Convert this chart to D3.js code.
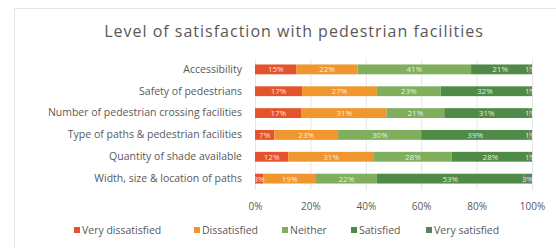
<!DOCTYPE html>
<html>
<head>
<meta charset="utf-8">
<script src="https://cdn.jsdelivr.net/npm/d3@7"></script>
<style>
  body { margin: 0; background: #fff; }
  svg { display: block; font-family: 'Open Sans', sans-serif; }
</style>
</head>
<body>
<svg id="chart" width="556" height="248"></svg>
<script>
const categories = [
  'Accessibility',
  'Safety of pedestrians',
  'Number of pedestrian crossing facilities',
  'Type of paths & pedestrian facilities',
  'Quantity of shade available',
  'Width, size & location of paths',
];
const levels = ['Very dissatisfied', 'Dissatisfied', 'Neither', 'Satisfied', 'Very satisfied'];
const veryDissatisfied = [15, 17, 17, 7, 12, 3];
const dissatisfied = [22, 27, 31, 23, 31, 19];
const neither = [41, 23, 21, 30, 28, 22];
const satisfied = [21, 32, 31, 39, 28, 53];
const verySatisfied = [1, 1, 1, 1, 1, 3];
const xTicks = [0, 0.2, 0.4, 0.6, 0.8, 1];

const colors = ['#e4532c', '#f0962f', '#7fae5c', '#4f8b47', '#5e7f62'];
const series = [veryDissatisfied, dissatisfied, neither, satisfied, verySatisfied];

const rows = categories.map((c, i) => {
  const r = { category: c };
  levels.forEach((l, j) => { r[l] = series[j][i]; });
  return r;
});

const svg = d3.select('#chart');

// chart frame
svg.append('rect')
  .attr('x', 14.5).attr('y', 8.5)
  .attr('width', 560).attr('height', 250)
  .attr('fill', 'none')
  .attr('stroke', '#e4e4e4');

svg.append('text')
  .attr('x', 294).attr('y', 37)
  .attr('text-anchor', 'middle')
  .attr('font-size', 16)
  .attr('letter-spacing', 1)
  .attr('fill', '#595959')
  .text('Level of satisfaction with pedestrian facilities');

const x = d3.scaleLinear().domain([0, 1]).range([255, 532]);
const y = d3.scaleBand().domain(categories).range([59, 189]).paddingInner(0.55).paddingOuter(0.25);

const stacked = d3.stack().keys(levels).offset(d3.stackOffsetExpand)(rows);

// grid
svg.append('g')
  .selectAll('line')
  .data(xTicks)
  .join('line')
  .attr('x1', (d) => x(d) + 0.5)
  .attr('x2', (d) => x(d) + 0.5)
  .attr('y1', 59)
  .attr('y2', 190)
  .attr('stroke', '#e6e6e6');

const groups = svg.append('g')
  .selectAll('g')
  .data(stacked)
  .join('g')
  .attr('fill', (d, i) => colors[i]);

groups.selectAll('rect')
  .data((d) => d)
  .join('rect')
  .attr('x', (d) => x(d[0]))
  .attr('y', (d) => y(d.data.category))
  .attr('width', (d) => x(d[1]) - x(d[0]))
  .attr('height', y.bandwidth());

stacked.forEach((s) => {
  svg.append('g')
    .selectAll('text')
    .data(s)
    .join('text')
    .attr('x', (d) => (x(d[0]) + x(d[1])) / 2)
    .attr('y', (d) => y(d.data.category) + y.bandwidth() / 2 + 3)
    .attr('text-anchor', 'middle')
    .attr('font-size', 8)
    .attr('fill', '#ffffff')
    .attr('fill-opacity', 0.85)
    .text((d) => `${d.data[s.key]}%`);
});

// category axis
svg.append('g')
  .attr('transform', 'translate(250,0)')
  .call(d3.axisLeft(y).tickSize(0).tickPadding(8))
  .call((g) => g.select('.domain').remove())
  .call((g) => g.selectAll('text')
    .attr('font-size', 10.5)
    .attr('font-family', "'Open Sans', sans-serif")
    .attr('fill', '#595959'));

// value axis
svg.append('g')
  .attr('transform', 'translate(0,197)')
  .call(d3.axisBottom(x).tickValues(xTicks).tickFormat(d3.format('.0%')).tickSize(0).tickPadding(6))
  .call((g) => g.select('.domain').remove())
  .call((g) => g.selectAll('text')
    .attr('font-size', 10)
    .attr('font-family', "'Open Sans', sans-serif")
    .attr('fill', '#595959'));

// legend
const legendX = [74, 194, 282, 351, 426];
const legend = svg.append('g')
  .selectAll('g')
  .data(levels)
  .join('g')
  .attr('transform', (d, i) => `translate(${legendX[i]},234)`);
legend.append('rect')
  .attr('x', 0).attr('y', -7)
  .attr('width', 6).attr('height', 6)
  .attr('fill', (d, i) => colors[i]);
legend.append('text')
  .attr('x', 8).attr('y', 0)
  .attr('font-size', 10.5)
  .attr('fill', '#595959')
  .text((d) => d);
</script>
</body>
</html>
